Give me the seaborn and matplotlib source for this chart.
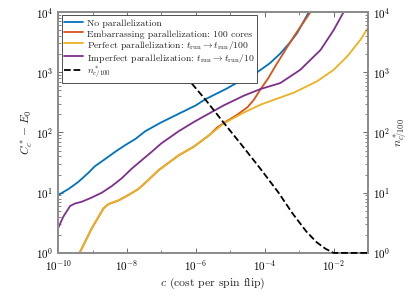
import numpy as np
import pandas as pd
import matplotlib
matplotlib.use("Agg")
import matplotlib.pyplot as plt
import matplotlib.ticker as mticker
import seaborn as sns

# --- values (log10 of cost c, log10 of y) ---
blue_cexp = [-10, -9.7, -9.41, -9.12, -8.93, -8.63, -8.34, -8.05, -7.76, -7.47, -7.03, -6.5, -6.0,
             -5.73, -5.1, -4.7, -4.22, -3.85, -3.55, -3.26, -3.06, -2.72]
blue_yexp = [0.96, 1.06, 1.18, 1.33, 1.44, 1.56, 1.68, 1.79, 1.89, 2.02, 2.16, 2.31, 2.45,
             2.55, 2.73, 2.86, 3.0, 3.15, 3.31, 3.5, 3.65, 4.0]

yell_cexp = [-9.42, -9.02, -8.68, -8.54, -8.25, -7.96, -7.67, -7.38, -7.09, -6.5, -6.07, -5.6, -5.19,
             -4.61, -4.13, -3.84, -3.5, -3.16, -2.48, -2.0, -1.61, -1.22, -0.98]
yell_yexp = [-0.05, 0.41, 0.74, 0.81, 0.87, 0.96, 1.06, 1.21, 1.37, 1.62, 1.76, 1.96, 2.15,
             2.33, 2.46, 2.52, 2.59, 2.66, 2.85, 3.04, 3.26, 3.54, 3.76]

red_cexp = [-9.42, -9.02, -8.68, -8.54, -8.25, -7.96, -7.67, -7.38, -7.09, -6.5, -6.07, -5.6, -5.39,
            -5.1, -4.81, -4.5, -4.32, -4.13, -3.9, -3.64, -3.16, -2.67]
red_yexp = [-0.05, 0.41, 0.74, 0.81, 0.87, 0.96, 1.06, 1.21, 1.37, 1.62, 1.76, 1.96, 2.08,
            2.19, 2.29, 2.42, 2.54, 2.71, 2.9, 3.15, 3.59, 4.0]

purp_cexp = [-10, -9.85, -9.65, -9.51, -9.31, -9.02, -8.73, -8.44, -8.15, -7.86, -7.57, -7.28, -7.0,
             -6.5, -6.07, -5.79, -5.19, -4.61, -4.13, -3.55, -2.97, -2.38, -2.0, -1.71]
purp_yexp = [0.41, 0.6, 0.78, 0.82, 0.85, 0.92, 1.0, 1.11, 1.24, 1.4, 1.54, 1.68, 1.82,
             2.02, 2.17, 2.26, 2.45, 2.61, 2.72, 2.82, 3.04, 3.37, 3.7, 4.0]

n_cexp = [-6.6, -6.16, -5.73, -5.19, -4.71, -4.13, -3.6, -3.2, -2.8, -2.5, -2.24, -2.0, -1.0]
n_yexp = [3.2, 2.84, 2.55, 2.16, 1.82, 1.4, 1.0, 0.66, 0.36, 0.18, 0.07, 0.0, 0.0]

labels = [
    "No parallelization",
    "Embarrassing parallelization: 100 cores",
    r"Perfect parallelization: $t_\mathrm{run} \to t_\mathrm{run}$/100",
    r"Imperfect parallelization: $t_\mathrm{run} \to t_\mathrm{run}$/10",
]
colors = ["#0072BD", "#D95319", "#EDB120", "#7E2F8E"]

# --- tabela longa para o seaborn ---
series = [(blue_cexp, blue_yexp), (red_cexp, red_yexp), (yell_cexp, yell_yexp), (purp_cexp, purp_yexp)]
frames = []
for lab, (cx, cy) in zip(labels, series):
    frames.append(pd.DataFrame({"c": 10.0 ** np.array(cx), "y": 10.0 ** np.array(cy), "curve": lab}))
df = pd.concat(frames, ignore_index=True)
df_n = pd.DataFrame({"c": 10.0 ** np.array(n_cexp), "n": 10.0 ** np.array(n_yexp)})

sns.set_style("ticks")
plt.rcParams["font.family"] = ["cmr10", "DejaVu Serif"]
plt.rcParams["mathtext.fontset"] = "cm"
plt.rcParams["axes.formatter.use_mathtext"] = True
plt.rcParams["axes.unicode_minus"] = False

fig = plt.figure(figsize=(4.15, 3.0), dpi=100)
ax = fig.add_axes([0.14, 0.157, 0.747, 0.803])

sns.lineplot(data=df, x="c", y="y", hue="curve", hue_order=labels, palette=colors,
             linewidth=1.3, estimator=None, ax=ax, legend=False)
ax.set_xscale("log")
ax.set_yscale("log")
ax.set_xlim(1e-10, 1e-1)
ax.set_ylim(1, 1e4)

ax2 = ax.twinx()
sns.lineplot(data=df_n, x="c", y="n", color="black", linestyle="--", linewidth=1.3,
             estimator=None, ax=ax2)
ax2.set_yscale("log")
ax2.set_ylim(1, 1e4)
ax2.set_xlim(1e-10, 1e-1)
for ln in ax2.lines:
    ln.set_clip_on(False)
    ln.set_zorder(4)

spine_col = "#8c8c8c"
for a in (ax, ax2):
    for s in a.spines.values():
        s.set_color(spine_col)
        s.set_linewidth(1.3)
    a.tick_params(which="both", direction="in", color="#555555", labelsize=8, labelcolor="black")
    a.tick_params(which="major", length=3.5, width=0.6)
    a.tick_params(which="minor", length=2, width=0.5)
    a.yaxis.set_major_locator(mticker.LogLocator(base=10, numticks=10))
    a.yaxis.set_minor_locator(mticker.LogLocator(base=10, subs=np.arange(2, 10), numticks=10))
    a.yaxis.set_minor_formatter(mticker.NullFormatter())

ax.tick_params(axis="x", which="both", top=True, pad=4)
ax.xaxis.set_major_locator(mticker.FixedLocator([1e-10, 1e-8, 1e-6, 1e-4, 1e-2]))
ax.xaxis.set_minor_locator(mticker.FixedLocator([1e-9, 1e-7, 1e-5, 1e-3, 1e-1]))
ax.xaxis.set_minor_formatter(mticker.NullFormatter())
ax.tick_params(axis="y", right=False)
ax2.tick_params(axis="y", left=False)

ax.set_xlabel(r"$c$ (cost per spin flip)", fontsize=8.5, labelpad=2)
ax.set_ylabel(r"$C_c^* - E_0$", fontsize=8.5, labelpad=1)
ax2.set_ylabel(r"$n^*_{c/100}$", fontsize=8.5, labelpad=1)

handles = [plt.Line2D([], [], color=c, lw=1.3) for c in colors]
handles.append(plt.Line2D([], [], color="black", lw=1.3, ls="--"))
leg = ax2.legend(handles, labels + [r"$n^*_{c/100}$"], loc="upper left", fontsize=7.0,
                 frameon=True, fancybox=False, framealpha=1, edgecolor="#333333",
                 borderpad=0.25, labelspacing=0.0, handlelength=2.0, handleheight=1.25,
                 handletextpad=0.4, borderaxespad=0.35)
leg.get_frame().set_linewidth(0.6)

fig.savefig("out.png", dpi=100)
